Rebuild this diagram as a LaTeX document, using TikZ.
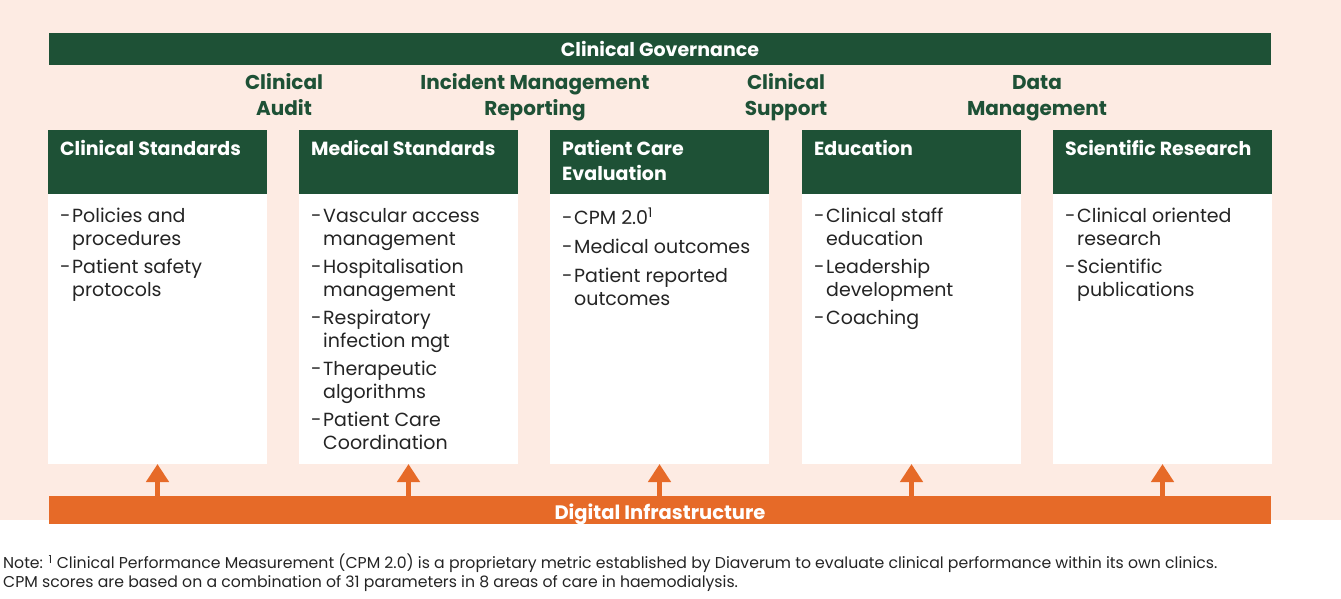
\documentclass[tikz,border=0pt]{standalone}
\usepackage{fontspec}
\setmainfont{Poppins}
\usetikzlibrary{arrows.meta}
\definecolor{peach}{RGB}{253,235,227}
\definecolor{dgreen}{RGB}{30,81,54}
\definecolor{orng}{RGB}{230,106,40}
\definecolor{txt}{RGB}{36,36,36}
\newcommand{\dsh}{\makebox[12pt][l]{-}}
\newcommand{\ind}{\hspace*{12pt}}
\newcommand{\topstrut}{\rule{0pt}{20pt}}
\tikzset{
  bar/.style={fill=#1, inner sep=0pt, outer sep=0pt, minimum width=1222pt, text=white, font=\bfseries\fontsize{19}{23}\selectfont},
  hdr/.style={fill=dgreen, inner sep=0pt, outer sep=0pt, minimum width=219pt, minimum height=64pt, anchor=north west},
  bodybox/.style={fill=white, inner sep=0pt, outer sep=0pt, minimum width=219pt, minimum height=270pt, anchor=north west},
  htxt/.style={text=white, inner sep=0pt, anchor=north west, align=left, font=\bfseries\fontsize{19}{25}\selectfont},
  btxt/.style={text=txt, inner sep=0pt, anchor=north west, align=left, font=\fontsize{19}{23}\selectfont},
  mid/.style={text=dgreen, inner sep=0pt, anchor=north, align=center, font=\bfseries\fontsize{20}{26}\selectfont},
  uparrow/.style={draw=orng, line width=5pt, -{Triangle[width=22pt,length=18pt]}},
  notetxt/.style={text=txt, inner sep=0pt, anchor=north west, align=left, font=\fontsize{15.7}{18.5}\selectfont}
}
\begin{document}
\begin{tikzpicture}[x=1pt,y=-1pt]
\useasboundingbox (0,0) rectangle (1341,599);
\fill[peach] (0,0) rectangle (1341,520);
% top bar
\node[bar=dgreen, minimum height=32pt, text height=16pt, text depth=0pt] (gov) at (660,49) {Clinical Governance};
% middle labels
\node[mid] (l1) at (284,69) {\topstrut Clinical\\Audit};
\node[mid] (l2) at (535,69) {\topstrut Incident Management\\Reporting};
\node[mid] (l3) at (786,69) {\topstrut Clinical\\Support};
\node[mid] (l4) at (1037,69) {\topstrut Data\\Management};
% headers
\node[hdr] (h1) at (48,130) {};
\node[hdr] (h2) at (299,130) {};
\node[hdr] (h3) at (550,130) {};
\node[hdr] (h4) at (802,130) {};
\node[hdr] (h5) at (1053,130) {};
\node[htxt] (t1) at (60,140) {Clinical Standards};
\node[htxt] (t2) at (311,140) {Medical Standards};
\node[htxt] (t3) at (562,140) {Patient Care\\Evaluation};
\node[htxt] (t4) at (814,140) {Education};
\node[htxt] (t5) at (1065,140) {Scientific Research};
% bodies
\node[bodybox] (b1) at (48,194) {};
\node[bodybox] (b2) at (299,194) {};
\node[bodybox] (b3) at (550,194) {};
\node[bodybox] (b4) at (802,194) {};
\node[bodybox] (b5) at (1053,194) {};
\node[btxt] (c1) at (60,208) {\dsh Policies and\\\ind procedures\\[5pt]\dsh Patient safety\\\ind protocols};
\node[btxt] (c2) at (311,208) {\dsh Vascular access\\\ind management\\[5pt]\dsh Hospitalisation\\\ind management\\[5pt]\dsh Respiratory\\\ind infection mgt\\[5pt]\dsh Therapeutic\\\ind algorithms\\[5pt]\dsh Patient Care\\\ind Coordination};
\node[btxt] (c3) at (562,208) {\dsh CPM 2.0\textsuperscript{1}\\[6pt]\dsh Medical outcomes\\[6pt]\dsh Patient reported\\\ind outcomes};
\node[btxt] (c4) at (814,208) {\dsh Clinical staff\\\ind education\\[5pt]\dsh Leadership\\\ind development\\[5pt]\dsh Coaching};
\node[btxt] (c5) at (1065,208) {\dsh Clinical oriented\\\ind research\\[5pt]\dsh Scientific\\\ind publications};
% bottom bar
\node[bar=orng, minimum height=28pt, text height=18pt, text depth=0pt, font=\bfseries\fontsize{19.5}{23}\selectfont] (dig) at (660,510) {Digital Infrastructure};
% arrows
\foreach \b in {b1,b2,b3,b4,b5}{
  \draw[uparrow] (dig.north -| \b.south) -- (\b.south);
}
% note
\node[notetxt] (note) at (3,554) {Note: \textsuperscript{1} Clinical Performance Measurement (CPM 2.0) is a proprietary metric established by Diaverum to evaluate clinical performance within its own clinics.\\CPM scores are based on a combination of 31 parameters in 8 areas of care in haemodialysis.};
\end{tikzpicture}
\end{document}
